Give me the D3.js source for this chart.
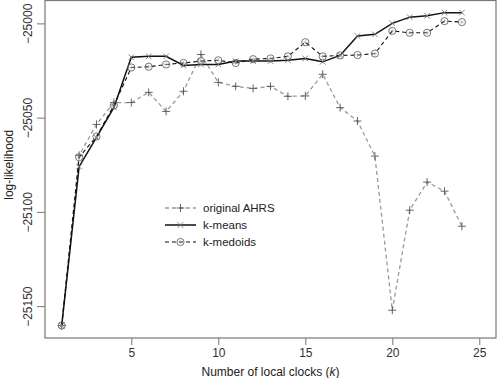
<!DOCTYPE html>
<html lang="en">
  <head>
    <meta charset="utf-8">
    <title>Log-likelihood vs local clocks</title>
    <style>
      body { margin: 0; background: #fff; }
      svg { display: block; font-family: "Liberation Sans", Arial, sans-serif; }
    </style>
    <script src="https://d3js.org/d3.v7.min.js"></script>
  </head>
  <body>
    <script>
    // values
    const k = [1,2,3,4,5,6,7,8,9,10,11,12,13,14,15,16,17,18,19,20,21,22,23,24];
    const ahrs = [-25160.3,-25070,-25053.6,-25042,-25042,-25036.6,-25046.7,-25036,-25016.5,-25031.3,-25033.4,-25034.5,
                  -25033.4,-25038.7,-25038.5,-25027,-25044.7,-25051.8,-25070.4,-25152.2,-25099.1,-25084.2,-25089,-25107.6];
    const kmeans = [-25160.3,-25076,-25060.5,-25044.6,-25018,-25017.5,-25017.5,-25022.3,-25021.8,-25021.8,-25020,-25020,
                    -25020,-25019.6,-25018.6,-25020.4,-25017,-25006.7,-25005.8,-25000,-24996.7,-24996,-24994.3,-24994.3];
    const kmedoids = [-25160.3,-25071,-25060,-25043.5,-25023.4,-25023,-25021.8,-25021,-25020,-25019.6,-25021,-25019,
                      -25018.6,-25017.5,-25010,-25017.5,-25017,-25016.8,-25016,-25004,-25005,-25005,-24998.8,-24999.3];
    const xTicks = [5,10,15,20,25];
    const yTicks = [-25150,-25100,-25050,-25000];

    const W = 499, H = 378;
    const margin = { top: 0, left: 45, bottom: 40, right: 3 };

    const svg = d3.select("body").append("svg")
      .attr("width", W).attr("height", H);

    const x = d3.scaleLinear().domain([0.04, 25.96]).range([margin.left, W - margin.right]);
    const y = d3.scaleLinear().domain([-25166.9, -24987.6]).range([H - margin.bottom, margin.top]);

    const axisColor = "#777";

    // box
    svg.append("rect")
      .attr("x", margin.left).attr("y", margin.top + 0.5)
      .attr("width", W - margin.right - margin.left).attr("height", H - margin.bottom - margin.top - 0.5)
      .attr("fill", "none").attr("stroke", axisColor).attr("stroke-width", 1.2);

    const xAxis = svg.append("g")
      .attr("transform", `translate(0,${H - margin.bottom})`)
      .call(d3.axisBottom(x).tickValues(xTicks).tickSize(7).tickPadding(3));
    xAxis.select(".domain").remove();
    xAxis.selectAll("line").attr("stroke", axisColor);
    xAxis.selectAll("text").attr("fill", "#333").style("font-size", "12px");

    const yAxis = svg.append("g")
      .attr("transform", `translate(${margin.left},0)`)
      .call(d3.axisLeft(y).tickValues(yTicks).tickSize(8).tickFormat(d3.format("d")));
    yAxis.select(".domain").remove();
    yAxis.selectAll("line").attr("stroke", axisColor);
    yAxis.selectAll("text")
      .attr("fill", "#333").style("font-size", "12px")
      .attr("text-anchor", "middle")
      .attr("x", 0).attr("dy", 0)
      .attr("transform", "translate(-13,0) rotate(-90)");

    svg.append("text")
      .attr("x", (x(0.04) + x(25.96)) / 2).attr("y", 376)
      .attr("text-anchor", "middle").attr("fill", "#222").style("font-size", "12px")
      .html("Number of local clocks (<tspan font-style='italic'>k</tspan>)");

    svg.append("text")
      .attr("transform", `translate(13,${y(-25075)}) rotate(-90)`)
      .attr("text-anchor", "middle").attr("fill", "#222").style("font-size", "12px")
      .text("log-likelihood");

    const line = vals => d3.line().x((d, i) => x(k[i])).y(d => y(d))(vals);

    const series = [
      { name: "original AHRS", vals: ahrs, color: "#9a9a9a", dash: "4,3", width: 1.3, mark: "plus" },
      { name: "k-means", vals: kmeans, color: "#111", dash: null, width: 1.5, mark: "cross" },
      { name: "k-medoids", vals: kmedoids, color: "#111", dash: "4,3", width: 1.1, mark: "circle" }
    ];

    function drawMark(g, cx, cy, type) {
      if (type === "plus") {
        const s = 4;
        g.append("path").attr("d", `M${cx - s},${cy}H${cx + s}M${cx},${cy - s}V${cy + s}`)
          .attr("stroke", "#555").attr("stroke-width", 0.9).attr("fill", "none");
      } else if (type === "cross") {
        const c = 2.8;
        g.append("path").attr("d", `M${cx - c},${cy - c}L${cx + c},${cy + c}M${cx - c},${cy + c}L${cx + c},${cy - c}`)
          .attr("stroke", "#777").attr("stroke-width", 0.9).attr("fill", "none");
      } else {
        g.append("circle").attr("cx", cx).attr("cy", cy).attr("r", 3.6)
          .attr("fill", "none").attr("stroke", "#666").attr("stroke-width", 0.9);
        g.append("path").attr("d", `M${cx - 2},${cy}H${cx + 2}M${cx},${cy - 2}V${cy + 2}`)
          .attr("stroke", "#999").attr("stroke-width", 0.6).attr("fill", "none");
      }
    }

    series.forEach(s => {
      svg.append("path")
        .attr("d", line(s.vals))
        .attr("fill", "none").attr("stroke", s.color)
        .attr("stroke-width", s.width)
        .attr("stroke-dasharray", s.dash);
      const g = svg.append("g");
      s.vals.forEach((v, i) => drawMark(g, x(k[i]), y(v), s.mark));
    });

    // legend
    const leg = svg.append("g");
    series.forEach((s, i) => {
      const ly = 208 + i * 17;
      leg.append("line")
        .attr("x1", 165).attr("x2", 196).attr("y1", ly).attr("y2", ly)
        .attr("stroke", s.color).attr("stroke-width", s.width).attr("stroke-dasharray", s.dash);
      drawMark(leg, 180.5, ly, s.mark);
      leg.append("text")
        .attr("x", 203).attr("y", ly + 4)
        .attr("fill", "#222").style("font-size", "11.5px")
        .text(s.name);
    });
    </script>
  </body>
</html>
